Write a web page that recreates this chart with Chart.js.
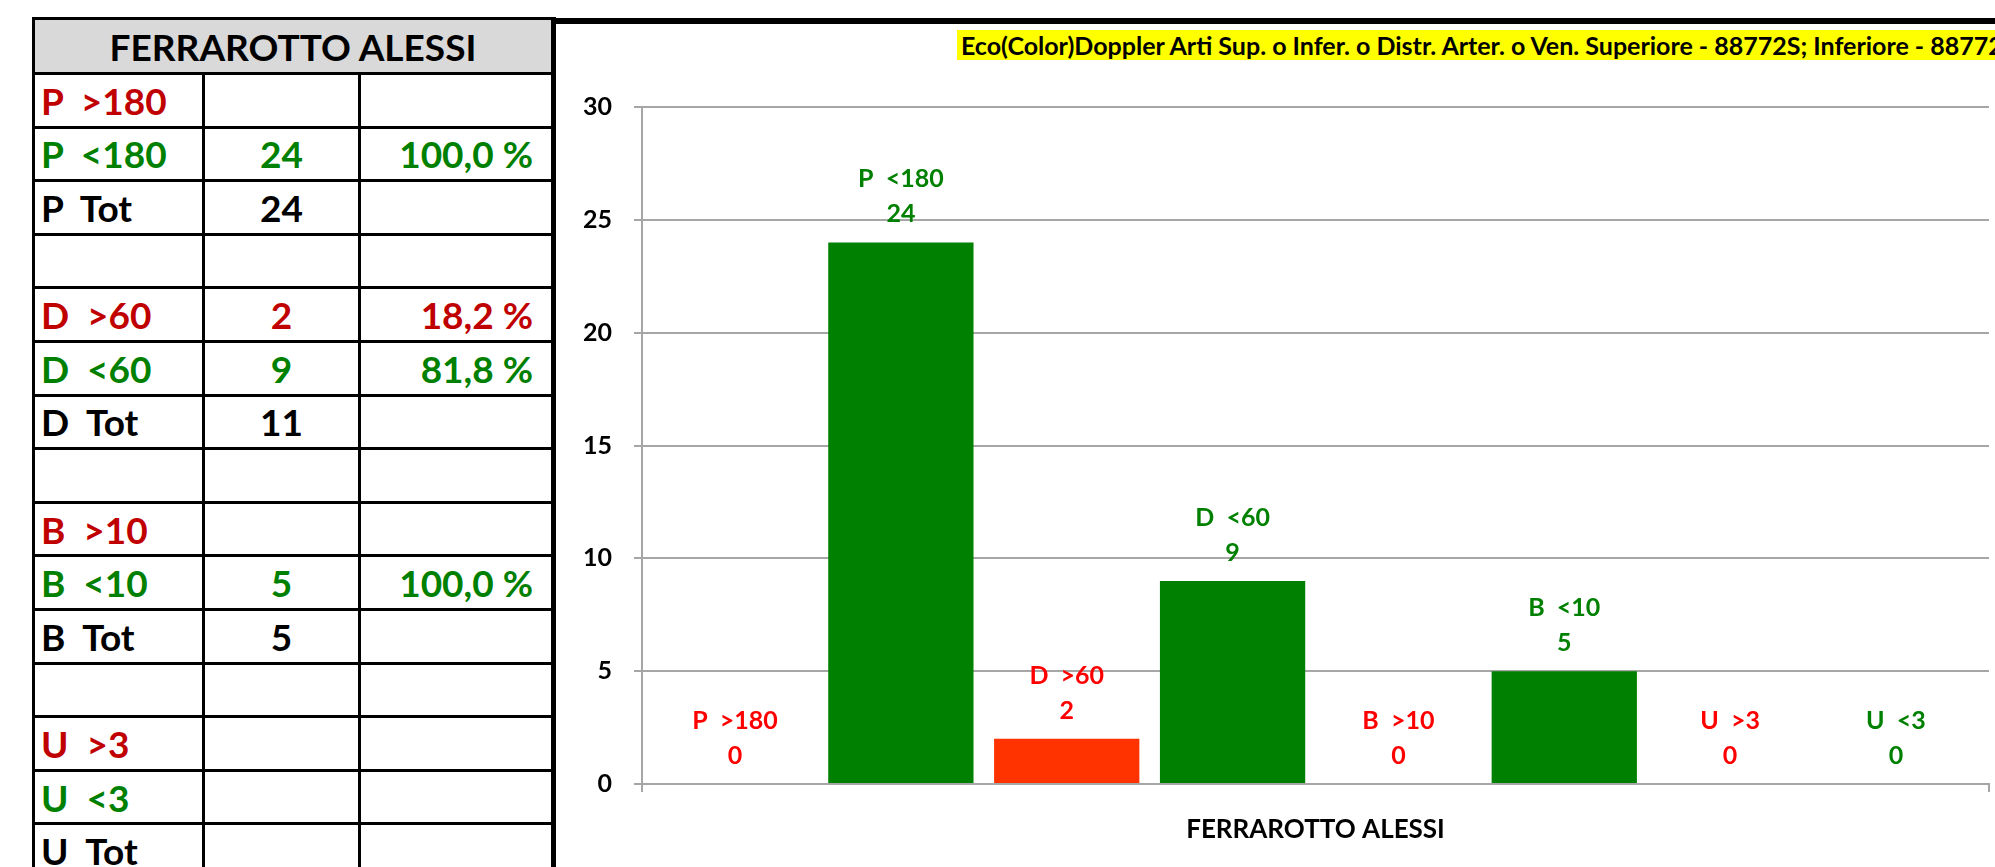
<!DOCTYPE html>
<html>
<head>
<meta charset="utf-8">
<script src="https://cdn.jsdelivr.net/npm/chart.js@4.4.1/dist/chart.umd.min.js"></script>
<style>
  html, body { margin: 0; padding: 0; background: #fff; width: 1995px; height: 867px; overflow: hidden; font-family: Lato, sans-serif; }
  #table {
    position: absolute; left: 32px; top: 17px;
    display: grid;
    grid-template-columns: 167px 153px 190px;
    grid-template-rows: 52px;
    grid-auto-rows: 50.6px;
    gap: 3px;
    padding: 3px 5px 3px 3px;
    background: #000;
  }
  #table div {
    background: #fff; display: flex; align-items: center;
    font-weight: bold; font-size: 37px; white-space: pre;
  }
  #table .head { grid-column: 1 / span 3; background: #d9d9d9; justify-content: center; font-size: 37px; }
  #table .c1 { justify-content: flex-start; padding-left: 6px; }
  #table .c2 { justify-content: center; }
  #table .c3 { justify-content: flex-end; padding-right: 18px; }
  #box {
    position: absolute; left: 556px; top: 18px; width: 1439px; height: 849px;
    box-sizing: border-box; border-top: 6px solid #000; overflow: hidden;
  }
  #title {
    position: absolute; left: 401px; top: 6px; height: 30px; line-height: 30px;
    background: #ffff00; padding: 0 4px; white-space: nowrap;
    font-weight: bold; font-size: 25px; color: #000;
  }
  #chart { position: absolute; left: 0; top: 0; }
</style>
</head>
<body>
<div id="table"></div>
<div id="box">
  <canvas id="chart" width="1439" height="843"></canvas>
  <div id="title"></div>
</div>
<script>
const titleText = 'Eco(Color)Doppler Arti Sup. o Infer. o Distr. Arter. o Ven. Superiore - 88772S; Inferiore - 88772';
const categories = ['FERRAROTTO ALESSI'];
const seriesNames = ['P  >180', 'P  <180', 'D  >60', 'D  <60', 'B  >10', 'B  <10', 'U  >3', 'U  <3'];
const seriesValues = [0, 24, 2, 9, 0, 5, 0, 0];
const yMax = 30;
const yStep = 5;

const tableLabels = ['P  >180', 'P  <180', 'P  Tot', '', 'D  >60', 'D  <60', 'D  Tot', '', 'B  >10', 'B  <10', 'B  Tot', '', 'U  >3', 'U  <3', 'U  Tot'];
const tableCounts = ['', '24', '24', '', '2', '9', '11', '', '', '5', '5', '', '', '', ''];
const tablePercents = ['', '100,0 %', '', '', '18,2 %', '81,8 %', '', '', '', '100,0 %', '', '', '', '', ''];

function tableColor(label) {
  if (label.includes('>')) return '#c00000';
  if (label.includes('<')) return '#008000';
  return '#000';
}

// build the side table
const table = document.getElementById('table');
const head = document.createElement('div');
head.className = 'head';
head.textContent = categories[0];
table.appendChild(head);
tableLabels.forEach(function(label, i) {
  const color = tableColor(label);
  [label, tableCounts[i], tablePercents[i]].forEach(function(txt, j) {
    const cell = document.createElement('div');
    cell.className = 'c' + (j + 1);
    cell.textContent = txt;
    cell.style.color = color;
    table.appendChild(cell);
  });
});

document.getElementById('title').textContent = titleText;

const barColor = name => name.includes('>') ? '#ff3300' : '#008000';
const labelColor = name => name.includes('>') ? '#ff0000' : '#008000';

// name + value above each bar, like the excel data labels
const barLabels = {
  id: 'barLabels',
  afterDatasetsDraw(chart) {
    const ctx = chart.ctx;
    ctx.save();
    ctx.font = 'bold 25px Lato';
    ctx.textAlign = 'center';
    ctx.textBaseline = 'middle';
    chart.data.datasets.forEach(function(ds, i) {
      const bar = chart.getDatasetMeta(i).data[0];
      ctx.fillStyle = labelColor(ds.label);
      ctx.fillText(ds.label, bar.x, bar.y - 63);
      ctx.fillText(String(ds.data[0]), bar.x, bar.y - 28);
    });
    ctx.restore();
  }
};

function draw() {
  new Chart(document.getElementById('chart').getContext('2d'), {
    type: 'bar',
    data: {
      labels: categories,
      datasets: seriesNames.map((name, i) => ({
        label: name,
        data: [seriesValues[i]],
        backgroundColor: barColor(name),
        categoryPercentage: 0.985,
        barPercentage: 0.876
      }))
    },
    options: {
      responsive: false,
      animation: false,
      layout: { padding: { top: 83, right: 6, left: 0, bottom: 0 } },
      plugins: {
        legend: { display: false },
        tooltip: { enabled: false }
      },
      scales: {
        y: {
          min: 0,
          max: yMax,
          ticks: { stepSize: yStep, color: '#000', font: { family: 'Lato', size: 25, weight: 'bold' }, padding: 22 },
          grid: { color: '#a6a6a6', lineWidth: 2, tickLength: 8 },
          border: { color: '#a6a6a6', width: 2 },
          afterFit: s => { s.width = 86; }
        },
        x: {
          ticks: { color: '#000', font: { family: 'Lato', size: 26, weight: 'bold' }, padding: 22 },
          grid: { drawOnChartArea: false, color: '#a6a6a6', lineWidth: 2, tickLength: 8 },
          border: { color: '#a6a6a6', width: 2 },
          afterFit: s => { s.height = 83; }
        }
      }
    },
    plugins: [barLabels]
  });
}

document.fonts.load('bold 24px Lato').then(draw, draw);
</script>
</body>
</html>
